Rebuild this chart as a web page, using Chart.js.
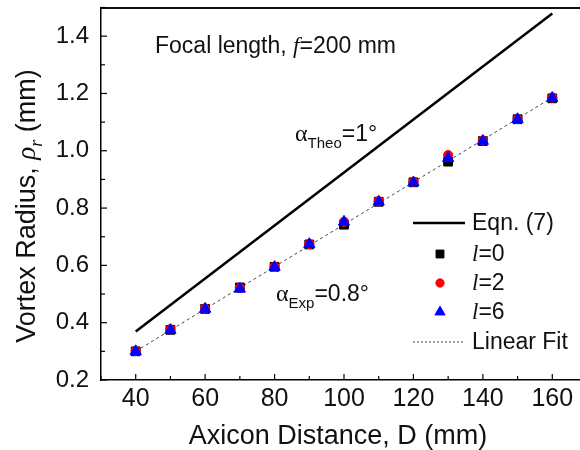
<!DOCTYPE html>
<html><head><meta charset="utf-8">
<script src="https://cdn.jsdelivr.net/npm/chart.js@4.4.1/dist/chart.umd.min.js"></script>
<style>html,body{margin:0;padding:0;background:#fff;overflow:hidden}#wrap{width:580px;height:450px;overflow:hidden;position:relative}#frameTop{position:absolute;left:100px;top:6px;width:480px;height:2px;background:#222}</style>
</head><body><div id="wrap"><canvas id="c" width="600" height="450" style="width:600px;height:450px"></canvas></div>
<script>
// ---- data ----
const distances = [40, 50, 60, 70, 80, 90, 100, 110, 120, 130, 140, 150, 160];
const l0Values = [0.300, 0.375, 0.448, 0.523, 0.595, 0.673, 0.742, 0.822, 0.890, 0.962, 1.034, 1.110, 1.183];
const l2Values = [0.302, 0.377, 0.450, 0.522, 0.595, 0.675, 0.752, 0.824, 0.892, 0.985, 1.036, 1.112, 1.186];
const l6Values = [0.300, 0.374, 0.448, 0.518, 0.594, 0.674, 0.752, 0.822, 0.889, 0.974, 1.034, 1.110, 1.184];
const eqnX = [40, 160];
const eqnValues = [0.369, 1.479];
const fitX = [40, 160];
const fitValues = [0.300, 1.186];
const xTickLabels = [40, 60, 80, 100, 120, 140, 160];
const yTickLabels = [0.2, 0.4, 0.6, 0.8, 1.0, 1.2, 1.4];

const SANS = '"Liberation Sans", Arial, sans-serif';
const SERIF = '"Liberation Serif", "Times New Roman", serif';
const INK = '#111';

const pts = (xs, ys) => xs.map((x, i) => ({x: x, y: ys[i]}));

function drawRuns(ctx, runs, x, y) {
  let cx = x;
  for (const r of runs) {
    ctx.font = r[1];
    ctx.fillText(r[0], cx, y + (r[2] || 0));
    cx += ctx.measureText(r[0]).width;
  }
  return cx - x;
}
function runsWidth(ctx, runs) {
  let w = 0;
  for (const r of runs) { ctx.font = r[1]; w += ctx.measureText(r[0]).width; }
  return w;
}

const decor = {
  id: 'decor',
  afterDraw(chart) {
    const ctx = chart.ctx, ca = chart.chartArea;
    const xs = chart.scales.x, ys = chart.scales.y;
    ctx.save();
    ctx.setLineDash([]);
    // top frame line (upper edge of the plot box)
    ctx.strokeStyle = '#111'; ctx.lineWidth = 2;
    ctx.beginPath(); ctx.moveTo(xs.left, ys.top + 0.5); ctx.lineTo(600, ys.top + 0.5); ctx.stroke();
    // inward tick marks
    ctx.strokeStyle = '#000'; ctx.lineWidth = 1.2;
    for (let v = 30; v <= 170; v += 10) {
      const px = xs.getPixelForValue(v);
      const len = xTickLabels.includes(v) ? 6 : 4;
      ctx.beginPath(); ctx.moveTo(px, ca.bottom); ctx.lineTo(px, ca.bottom - len); ctx.stroke();
    }
    for (let k = 2; k <= 15; k++) {
      const v = k / 10;
      const py = ys.getPixelForValue(v);
      const len = (k % 2 === 0) ? 6 : 4;
      ctx.beginPath(); ctx.moveTo(ca.left, py); ctx.lineTo(ca.left + len, py); ctx.stroke();
    }
    ctx.fillStyle = INK;
    ctx.textBaseline = 'alphabetic';
    ctx.textAlign = 'left';
    // annotations
    drawRuns(ctx, [['Focal length, ', '23px ' + SANS], ['f', 'italic 23px ' + SERIF], ['=200 mm', '23px ' + SANS]], 155, 53);
    drawRuns(ctx, [['\u03B1', '24px ' + SERIF], ['Theo', '15px ' + SANS, 7], ['=1\u00B0', '23px ' + SANS]], 295, 141);
    drawRuns(ctx, [['\u03B1', '24px ' + SERIF], ['Exp', '15px ' + SANS, 7], ['=0.8\u00B0', '23px ' + SANS]], 276, 301);
    // axis titles
    const xt = [['Axicon Distance, D (mm)', '27px ' + SANS]];
    const xw = runsWidth(ctx, xt);
    drawRuns(ctx, xt, 338 - xw / 2, 444);
    const yt = [['Vortex Radius, ', '27px ' + SANS], ['\u03C1', 'italic 27px ' + SERIF], ['r', 'italic 18px ' + SERIF, 7], [' (mm)', '27px ' + SANS]];
    const yw = runsWidth(ctx, yt);
    ctx.save();
    ctx.translate(35, 206); ctx.rotate(-Math.PI / 2);
    drawRuns(ctx, yt, -yw / 2, 0);
    ctx.restore();
    // legend
    const lx0 = 413, lx1 = 465, tx = 472;
    const rows = [223, 254, 283, 312, 342];
    ctx.textBaseline = 'middle';
    ctx.strokeStyle = '#000'; ctx.lineWidth = 2.5;
    ctx.beginPath(); ctx.moveTo(lx0, rows[0]); ctx.lineTo(lx1, rows[0]); ctx.stroke();
    drawRuns(ctx, [['Eqn. (7)', '23px ' + SANS]], tx, rows[0] + 1);
    const ds = chart.data.datasets;
    const sym = [ds[2], ds[3], ds[4]];
    const labs = ['0', '2', '6'];
    for (let i = 0; i < 3; i++) {
      const d = sym[i];
      ctx.fillStyle = d.backgroundColor; ctx.strokeStyle = d.borderColor; ctx.lineWidth = 1;
      Chart.helpers.drawPoint(ctx, {pointStyle: d.pointStyle, radius: d.pointRadius * 0.9, borderWidth: 1, rotation: 0}, 440, rows[i + 1]);
      ctx.fillStyle = INK;
      drawRuns(ctx, [['l', 'italic 23px ' + SERIF], ['=' + labs[i], '23px ' + SANS]], tx, rows[i + 1] + 1);
    }
    ctx.strokeStyle = '#444'; ctx.lineWidth = 1; ctx.setLineDash([2, 2]);
    ctx.beginPath(); ctx.moveTo(lx0, rows[4]); ctx.lineTo(lx1, rows[4]); ctx.stroke();
    ctx.setLineDash([]);
    drawRuns(ctx, [['Linear Fit', '23px ' + SANS]], tx, rows[4] + 1);
    ctx.restore();
  }
};

new Chart(document.getElementById('c'), {
  type: 'scatter',
  data: {
    datasets: [
      {label: 'Eqn. (7)', data: pts(eqnX, eqnValues), showLine: true, borderColor: '#000', borderWidth: 2.5, pointRadius: 0, order: 5},
      {label: 'Linear Fit', data: pts(fitX, fitValues), showLine: true, borderColor: '#444', borderWidth: 1, borderDash: [3, 3], pointRadius: 0, order: 4},
      {label: 'l=0', data: pts(distances, l0Values), pointStyle: 'rect', pointRadius: 6.2, backgroundColor: '#000', borderColor: '#000', borderWidth: 1, order: 3},
      {label: 'l=2', data: pts(distances, l2Values), pointStyle: 'circle', pointRadius: 4.6, backgroundColor: '#ff0000', borderColor: '#ff0000', borderWidth: 1, order: 2},
      {label: 'l=6', data: pts(distances, l6Values), pointStyle: 'triangle', pointRadius: 6.5, backgroundColor: '#0000ff', borderColor: '#0000ff', borderWidth: 1, order: 1}
    ]
  },
  options: {
    responsive: false, animation: false, devicePixelRatio: 1,
    layout: {padding: {left: 0, top: 7, right: 13, bottom: 0}},
    plugins: {legend: {display: false}, tooltip: {enabled: false}},
    elements: {point: {hoverRadius: 0}},
    scales: {
      x: {
        type: 'linear', min: 30, max: 170,
        afterBuildTicks: s => { s.ticks = xTickLabels.map(v => ({value: v})); },
        afterFit: s => { s.height = 70; s.paddingLeft = 0; s.paddingRight = 0; },
        grid: {display: false, drawTicks: false},
        border: {display: true, color: '#000', width: 1.5},
        ticks: {color: INK, font: {family: SANS, size: 25}, padding: 4, maxRotation: 0}
      },
      y: {
        type: 'linear', min: 0.2, max: 1.5,
        afterBuildTicks: s => { s.ticks = yTickLabels.map(v => ({value: v})); },
        afterFit: s => { s.width = 101; s.paddingTop = 0; s.paddingBottom = 0; },
        grid: {display: false, drawTicks: false},
        border: {display: true, color: '#000', width: 1.5},
        ticks: {color: INK, font: {family: SANS, size: 24}, padding: 12, callback: v => v.toFixed(1)}
      }
    }
  },
  plugins: [decor]
});
</script></body></html>
